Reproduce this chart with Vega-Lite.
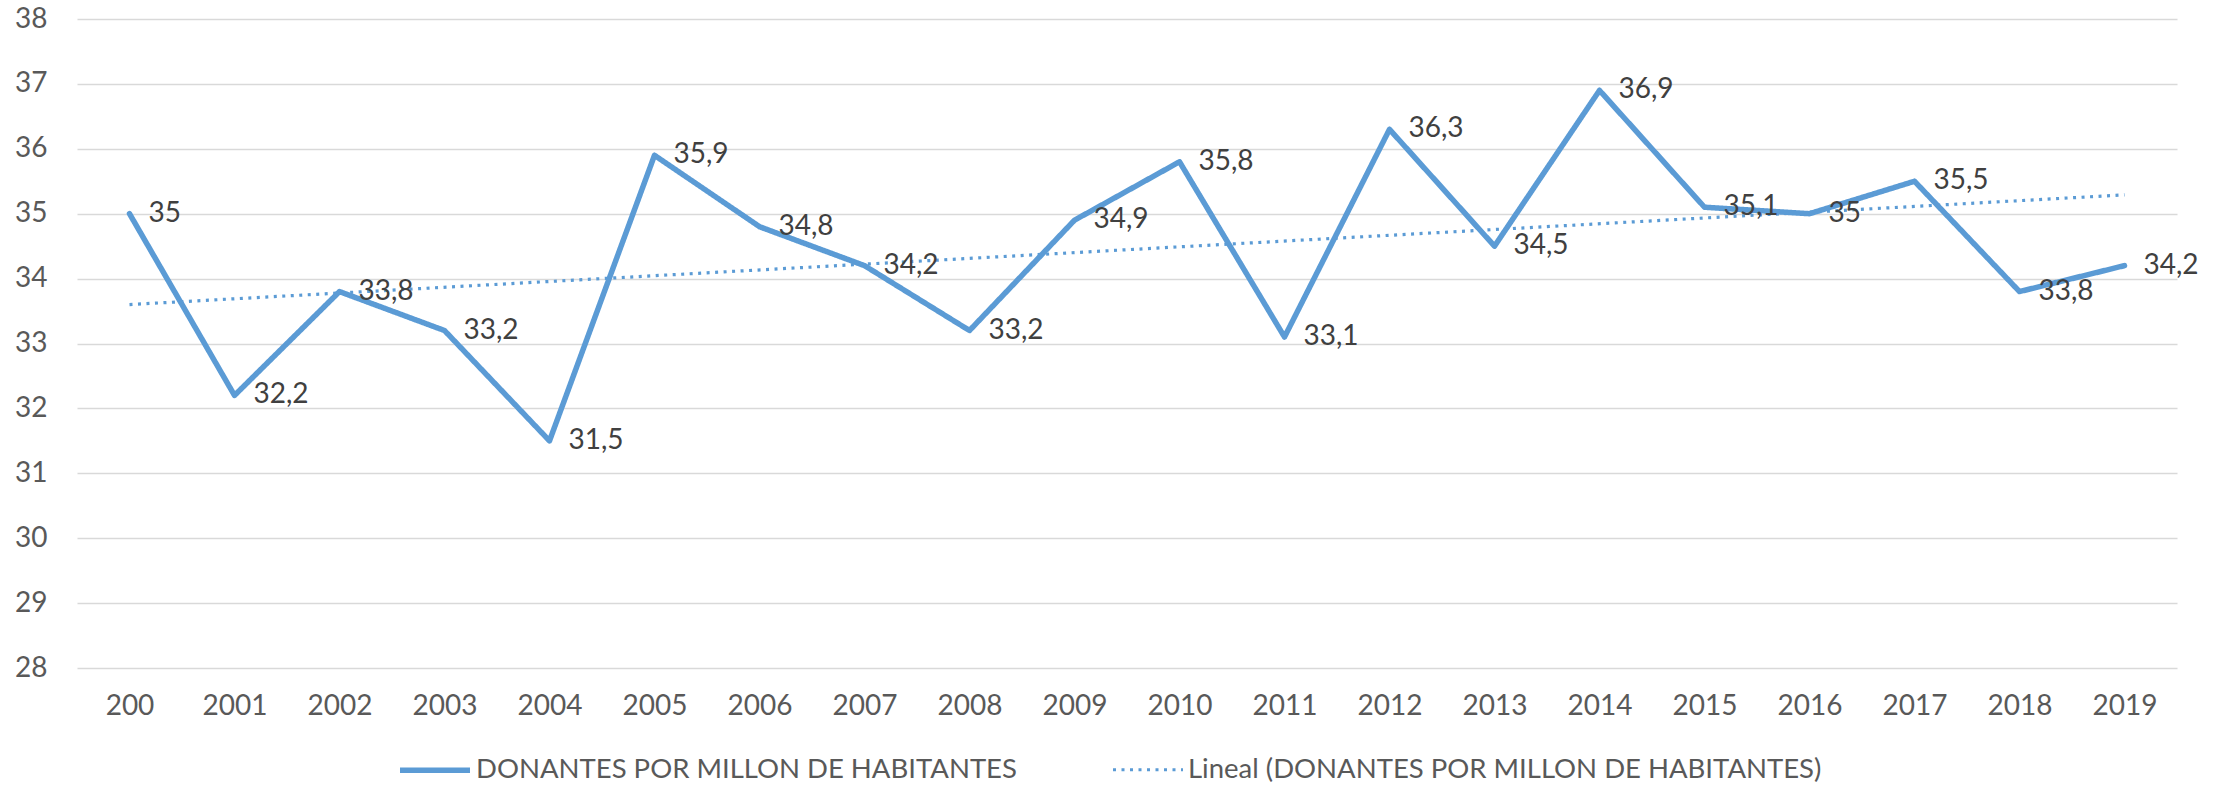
{
  "$schema": "https://vega.github.io/schema/vega-lite/v6.json",
  "width": 2100,
  "height": 649,
  "autosize": "none",
  "padding": {"left": 77, "top": 19, "right": 47, "bottom": 120},
  "background": "white",
  "config": {
    "view": {"stroke": null},
    "font": "Lato",
    "axis": {"labelFont": "Lato", "labelFontSize": 28, "labelColor": "#595959", "domain": false, "ticks": false, "title": null},
    "legend": {
      "orient": "none", "legendX": 320, "legendY": 713, "direction": "horizontal",
      "symbolType": "stroke", "symbolSize": 4900, "labelFont": "Lato", "labelFontSize": 27.5,
      "labelColor": "#595959", "labelLimit": 0, "labelOffset": 3, "columnPadding": 89, "title": null
    }
  },
  "datasets": {
    "donantes": [
      {"year": "200", "value": 35, "label": "35", "series": "DONANTES POR MILLON DE HABITANTES"},
      {"year": "2001", "value": 32.2, "label": "32,2", "series": "DONANTES POR MILLON DE HABITANTES"},
      {"year": "2002", "value": 33.8, "label": "33,8", "series": "DONANTES POR MILLON DE HABITANTES"},
      {"year": "2003", "value": 33.2, "label": "33,2", "series": "DONANTES POR MILLON DE HABITANTES"},
      {"year": "2004", "value": 31.5, "label": "31,5", "series": "DONANTES POR MILLON DE HABITANTES"},
      {"year": "2005", "value": 35.9, "label": "35,9", "series": "DONANTES POR MILLON DE HABITANTES"},
      {"year": "2006", "value": 34.8, "label": "34,8", "series": "DONANTES POR MILLON DE HABITANTES"},
      {"year": "2007", "value": 34.2, "label": "34,2", "series": "DONANTES POR MILLON DE HABITANTES"},
      {"year": "2008", "value": 33.2, "label": "33,2", "series": "DONANTES POR MILLON DE HABITANTES"},
      {"year": "2009", "value": 34.9, "label": "34,9", "series": "DONANTES POR MILLON DE HABITANTES"},
      {"year": "2010", "value": 35.8, "label": "35,8", "series": "DONANTES POR MILLON DE HABITANTES"},
      {"year": "2011", "value": 33.1, "label": "33,1", "series": "DONANTES POR MILLON DE HABITANTES"},
      {"year": "2012", "value": 36.3, "label": "36,3", "series": "DONANTES POR MILLON DE HABITANTES"},
      {"year": "2013", "value": 34.5, "label": "34,5", "series": "DONANTES POR MILLON DE HABITANTES"},
      {"year": "2014", "value": 36.9, "label": "36,9", "series": "DONANTES POR MILLON DE HABITANTES"},
      {"year": "2015", "value": 35.1, "label": "35,1", "series": "DONANTES POR MILLON DE HABITANTES"},
      {"year": "2016", "value": 35, "label": "35", "series": "DONANTES POR MILLON DE HABITANTES"},
      {"year": "2017", "value": 35.5, "label": "35,5", "series": "DONANTES POR MILLON DE HABITANTES"},
      {"year": "2018", "value": 33.8, "label": "33,8", "series": "DONANTES POR MILLON DE HABITANTES"},
      {"year": "2019", "value": 34.2, "label": "34,2", "series": "DONANTES POR MILLON DE HABITANTES"}
    ],
    "trend": [
      {"year": "200", "value": 33.6, "series": "Lineal (DONANTES POR MILLON DE HABITANTES)"},
      {"year": "2019", "value": 35.29, "series": "Lineal (DONANTES POR MILLON DE HABITANTES)"}
    ]
  },
  "encoding": {
    "x": {
      "field": "year", "type": "ordinal", "sort": null,
      "scale": {"type": "point", "padding": 0.5, "domain": ["200","2001","2002","2003","2004","2005","2006","2007","2008","2009","2010","2011","2012","2013","2014","2015","2016","2017","2018","2019"]},
      "axis": {"labelAngle": 0, "labelPadding": 24, "grid": false}
    },
    "y": {
      "field": "value", "type": "quantitative",
      "scale": {"domain": [28, 38], "nice": false, "zero": false},
      "axis": {"values": [28,29,30,31,32,33,34,35,36,37,38], "labelPadding": 30, "grid": true, "gridColor": "#D9D9D9", "gridWidth": 1.5}
    }
  },
  "layer": [
    {
      "data": {"name": "trend"},
      "mark": {"type": "line"},
      "encoding": {
        "color": {"field": "series", "type": "nominal", "scale": {"domain": ["DONANTES POR MILLON DE HABITANTES", "Lineal (DONANTES POR MILLON DE HABITANTES)"], "range": ["#5B9BD5", "#5B9BD5"]}},
        "strokeDash": {"field": "series", "type": "nominal", "scale": {"domain": ["DONANTES POR MILLON DE HABITANTES", "Lineal (DONANTES POR MILLON DE HABITANTES)"], "range": [[1, 0], [3, 5.5]]}},
        "strokeWidth": {"field": "series", "type": "nominal", "scale": {"domain": ["DONANTES POR MILLON DE HABITANTES", "Lineal (DONANTES POR MILLON DE HABITANTES)"], "range": [5.5, 3.2]}}
      }
    },
    {
      "data": {"name": "donantes"},
      "mark": {"type": "line", "strokeJoin": "round", "strokeCap": "round"},
      "encoding": {
        "color": {"field": "series", "type": "nominal"},
        "strokeDash": {"field": "series", "type": "nominal"},
        "strokeWidth": {"field": "series", "type": "nominal"}
      }
    },
    {
      "data": {"name": "donantes"},
      "mark": {"type": "text", "align": "left", "baseline": "middle", "dx": 19, "fontSize": 28, "font": "Lato", "color": "#404040"},
      "encoding": {"text": {"field": "label", "type": "nominal"}}
    }
  ],
  "resolve": {"scale": {"color": "shared", "strokeDash": "shared", "strokeWidth": "shared"}}
}
